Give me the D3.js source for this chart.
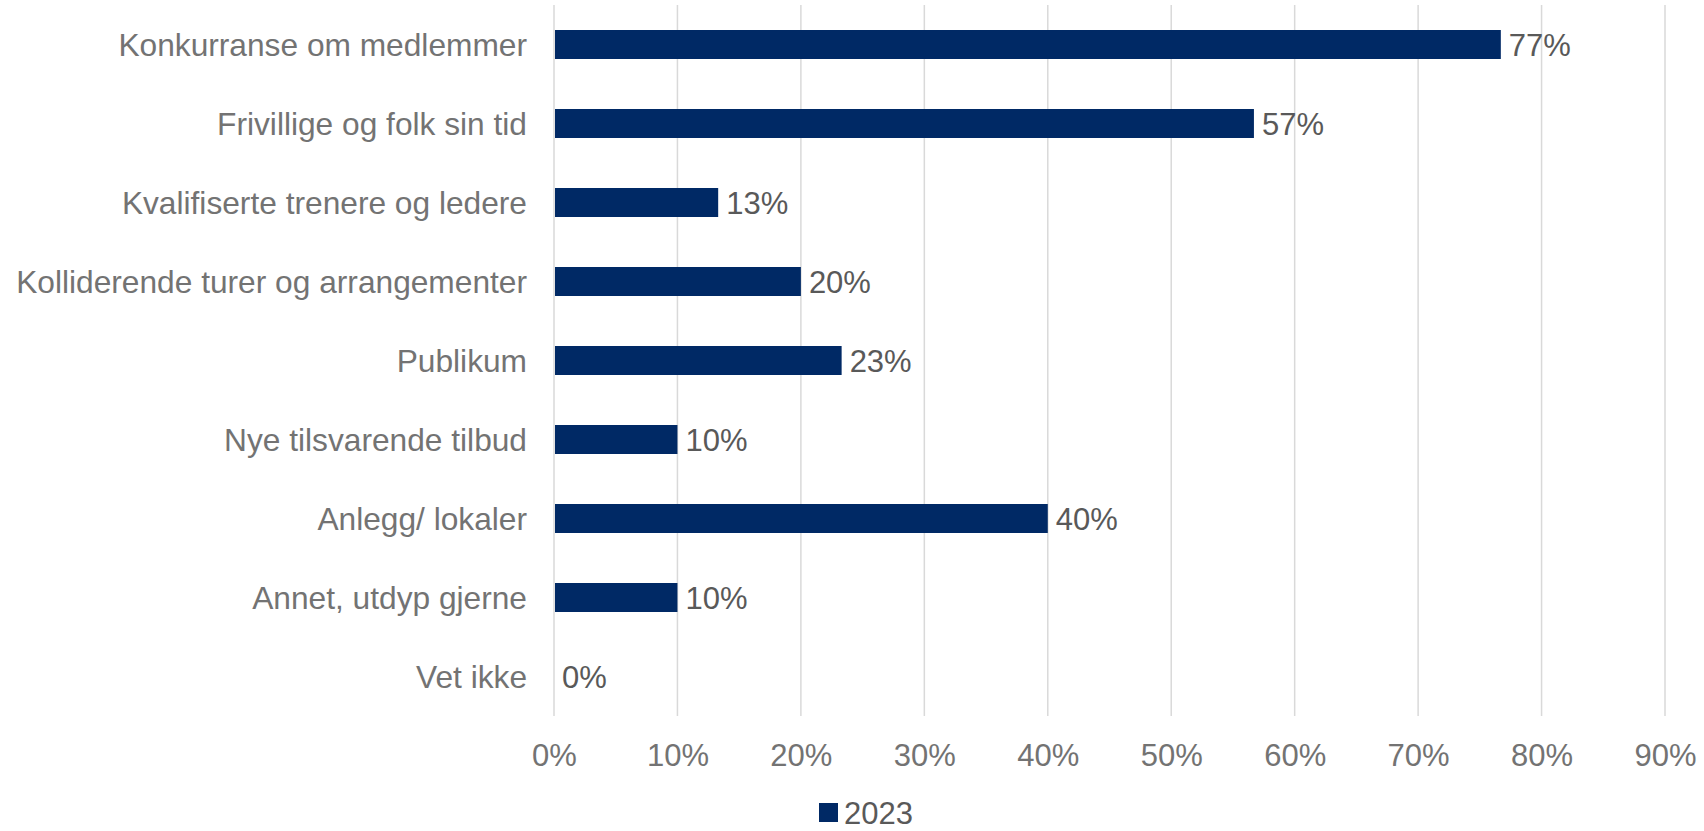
<!DOCTYPE html>
<html>
<head>
<meta charset="utf-8">
<script src="https://cdn.jsdelivr.net/npm/d3@7"></script>
<style>
  html, body { margin: 0; padding: 0; background: #fff; }
  svg { display: block; }
  text { font-family: "Liberation Sans", Arial, sans-serif; }
</style>
</head>
<body>
<div id="chart"></div>
<script>
const categories = [
  "Konkurranse om medlemmer",
  "Frivillige og folk sin tid",
  "Kvalifiserte trenere og ledere",
  "Kolliderende turer og arrangementer",
  "Publikum",
  "Nye tilsvarende tilbud",
  "Anlegg/ lokaler",
  "Annet, utdyp gjerne",
  "Vet ikke"
];
const values2023 = [76.7, 56.7, 13.3, 20.0, 23.3, 10.0, 40.0, 10.0, 0];
const dataLabels = ["77%", "57%", "13%", "20%", "23%", "10%", "40%", "10%", "0%"];
const xTicks = [0, 10, 20, 30, 40, 50, 60, 70, 80, 90];
const seriesName = "2023";

const W = 1704, H = 831;
const plotLeft = 554, plotRight = 1665, plotTop = 5, plotBottom = 716;
const barColor = "#002965";

const svg = d3.select("#chart").append("svg").attr("width", W).attr("height", H);

const x = d3.scaleLinear().domain([0, 90]).range([plotLeft, plotRight]);
const y = d3.scaleBand().domain(categories).range([plotTop, plotBottom]).paddingInner(0.633).paddingOuter(0.3165);

// gridlines
svg.append("g").selectAll("line").data(xTicks).join("line")
  .attr("x1", d => x(d)).attr("x2", d => x(d))
  .attr("y1", plotTop).attr("y2", plotBottom)
  .attr("stroke", "#d9d9d9").attr("stroke-width", 1.5);

// x axis labels
const xAxis = d3.axisBottom(x).tickValues(xTicks).tickFormat(d => d + "%").tickSize(0).tickPadding(0);
const gx = svg.append("g").attr("transform", `translate(0, ${plotBottom})`).call(xAxis);
gx.select(".domain").remove();
gx.selectAll("text")
  .attr("y", 0).attr("dy", "1.6em")
  .attr("fill", "#737373").style("font-size", "31px")
  .style("font-family", '"Liberation Sans", Arial, sans-serif');

// y axis labels
const yAxis = d3.axisLeft(y).tickSize(0).tickPadding(27);
const gy = svg.append("g").attr("transform", `translate(${plotLeft}, 0)`).call(yAxis);
gy.select(".domain").remove();
gy.selectAll("text")
  .attr("dy", "0.36em")
  .attr("fill", "#737373").style("font-size", "31.7px")
  .style("font-family", '"Liberation Sans", Arial, sans-serif');

// bars
svg.append("g").selectAll("rect").data(categories).join("rect")
  .attr("x", x(0) + 1)
  .attr("y", d => y(d))
  .attr("width", (d, i) => Math.max(0, x(values2023[i]) - x(0) - 1))
  .attr("height", y.bandwidth())
  .attr("fill", barColor);

// data labels
svg.append("g").selectAll("text").data(categories).join("text")
  .attr("x", (d, i) => x(values2023[i]) + 8)
  .attr("y", d => y(d) + y.bandwidth() / 2)
  .attr("dy", "0.36em")
  .attr("fill", "#595959").style("font-size", "31px")
  .text((d, i) => dataLabels[i]);

// legend
const lg = svg.append("g");
lg.append("rect").attr("x", 819).attr("y", 803).attr("width", 19).attr("height", 19).attr("fill", barColor);
lg.append("text").attr("x", 844).attr("y", 812.5).attr("dy", "0.36em")
  .attr("fill", "#595959").style("font-size", "31px").text(seriesName);
</script>
</body>
</html>
